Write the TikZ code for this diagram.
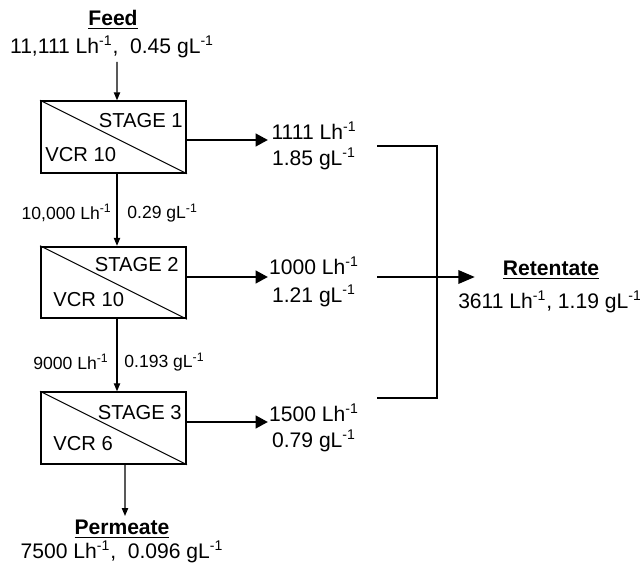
\documentclass[tikz,border=0pt]{standalone}
\usepackage{fontspec}
\setmainfont{Liberation Sans}
\usetikzlibrary{arrows.meta,positioning,calc}

\newcommand{\flowu}{Lh\textsuperscript{-1}}
\newcommand{\concu}{gL\textsuperscript{-1}}

\begin{document}
\begin{tikzpicture}[x=0.02cm, y=-0.02cm,
  stage/.style={rectangle,draw=black,line width=1.1pt,minimum width=2.9cm,minimum height=1.43cm,inner sep=0pt},
  flow/.style={draw=black,line width=0.6pt,-{Triangle[length=4.5pt,width=3.6pt]}},
  stream/.style={draw=black,line width=1.7pt,-{Triangle[length=7pt,width=7pt]}},
  pipe/.style={draw=black,line width=1.7pt},
  txt/.style={font=\fontsize{12}{15}\selectfont,inner sep=0pt,align=center},
  small/.style={font=\fontsize{10}{12}\selectfont,inner sep=0pt},
  tag/.style={font=\fontsize{11.5}{13}\selectfont,inner sep=0pt},
  head/.style={font=\fontsize{12}{14}\selectfont\bfseries,inner sep=0pt}
]
\useasboundingbox (0,0) rectangle (640,563);

% stages
\node[stage] (s1) at (113.5,137) {};
\node[stage] (s2) at (113.5,282.5) {};
\node[stage] (s3) at (113.5,428) {};
\foreach \s in {1,2,3}
  \draw[line width=0.6pt] (s\s.north west) -- (s\s.south east);
\node[tag,anchor=east] at (183,121) {STAGE 1};
\node[tag,anchor=west] at (45,155) {VCR 10};
\node[tag,anchor=east] at (179,265) {STAGE 2};
\node[tag,anchor=west] at (53,300) {VCR 10};
\node[tag,anchor=east] at (182,413) {STAGE 3};
\node[tag,anchor=west] at (53,444) {VCR 6};

% feed
\node[head] (feed) at (113,20) {\underline{Feed}};
\node[txt] (feedq) at (112,47) {11,111 \flowu,\ \ 0.45 \concu};
\coordinate (a1) at ([xshift=0.07cm]s1.north);
\coordinate (f0) at (117,62);
\draw[flow] (f0) -- (a1);

% between stages
\coordinate (a2) at ([xshift=0.07cm]s1.south);
\coordinate (a3) at ([xshift=0.07cm]s2.north);
\coordinate (a4) at ([xshift=0.07cm]s2.south);
\coordinate (a5) at ([xshift=0.07cm]s3.north);
\draw[flow] (a2) -- (a3);
\draw[flow] (a4) -- (a5);
\node[small,anchor=east] at (112,213) {10,000 \flowu};
\node[small,anchor=west] at (127,213) {0.29 \concu};
\node[small,anchor=east] at (109,362) {9000 \flowu};
\node[small,anchor=west] at (124,362) {0.193 \concu};

% permeate
\node[head] (perm) at (122,529) {\underline{Permeate}};
\node[txt] (permq) at (122,552) {7500 \flowu,\ \ 0.096 \concu};
\coordinate (a6) at ([xshift=0.23cm]s3.south);
\coordinate (p0) at (125,516);
\draw[flow] (a6) -- (p0);

% retentate streams
\node[txt] (r1) at (314,146) {1111 \flowu\\1.85 \concu};
\node[txt] (r2) at (314,282) {1000 \flowu\\[1pt]1.21 \concu};
\node[txt] (r3) at (314,428) {1500 \flowu\\0.79 \concu};
\coordinate (o1) at (268,140);
\coordinate (o2) at (268,277);
\coordinate (o3) at (268,422);
\foreach \s in {1,2,3}
  \draw[stream] (s\s.east |- o\s) -- (o\s);

% collector
\coordinate (b1) at (377,146);
\coordinate (b2) at (377,277);
\coordinate (b3) at (377,398);
\coordinate (k1) at (437,146);
\coordinate (k3) at (437,398);
\coordinate (rt) at (475,277);
\draw[pipe] (b1) -- (k1) -- (k3) -- (b3);
\draw[stream,-{Triangle[length=9.5pt,width=7.5pt]}] (b2) -- (rt);
\node[head] (ret) at (551,270) {\underline{Retentate}};
\node[txt] (retq) at (550,302) {3611 \flowu, 1.19 \concu};
\end{tikzpicture}
\end{document}
